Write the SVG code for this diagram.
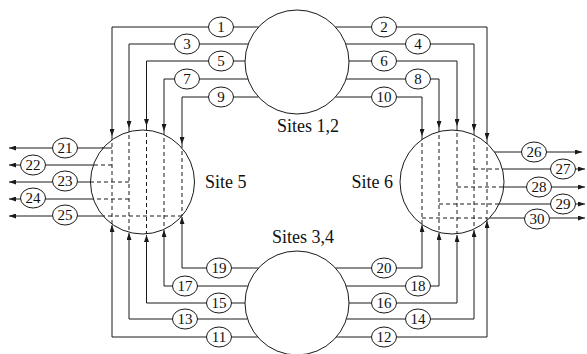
<svg xmlns="http://www.w3.org/2000/svg" width="587" height="354" viewBox="0 0 587 354">
<defs>
<marker id="ah" viewBox="0 0 7 5" refX="7" refY="2.5" markerWidth="7" markerHeight="5" markerUnits="userSpaceOnUse" orient="auto"><path d="M0,0 L7,2.5 L0,5 Z" fill="#1a1a1a"/></marker>
</defs>
<style>
.site{fill:#fff;stroke:#1a1a1a;stroke-width:1}
.ln{fill:none;stroke:#1a1a1a;stroke-width:1}
.arr{fill:none;stroke:#1a1a1a;stroke-width:1;marker-end:url(#ah)}
.dash{fill:none;stroke:#1a1a1a;stroke-width:1;stroke-dasharray:4 3}
.lab ellipse{fill:#fff;stroke:#1a1a1a;stroke-width:1}
.lab text{font-family:"Liberation Serif","Times New Roman",serif;font-size:15px;text-anchor:middle;fill:#111}
.st{font-family:"Liberation Serif","Times New Roman",serif;font-size:18px;fill:#111}
</style>
<g id="connectors">
<path class="arr" d="M258.5,27 H112 V136"/>
<path class="arr" d="M248,44 H129 V128"/>
<path class="arr" d="M245,61 H146.5 V126"/>
<path class="arr" d="M248,79 H164 V131"/>
<path class="arr" d="M258.5,97 H182 V144"/>
<path class="arr" d="M335.5,27 H487 V140"/>
<path class="arr" d="M346,44 H474 V131"/>
<path class="arr" d="M349,61 H457 V126"/>
<path class="arr" d="M346,79 H439 V128"/>
<path class="arr" d="M335.5,97 H422 V136"/>
<path class="arr" d="M257.7,337 H112 V225"/>
<path class="arr" d="M247.5,319 H129 V233"/>
<path class="arr" d="M245,303 H146.5 V235"/>
<path class="arr" d="M248,286 H164 V230"/>
<path class="arr" d="M258.5,268 H182 V217"/>
<path class="arr" d="M335.5,268 H422 V225"/>
<path class="arr" d="M346,286 H439 V233"/>
<path class="arr" d="M349,303 H457 V235"/>
<path class="arr" d="M346.5,319 H474 V230"/>
<path class="arr" d="M336,337 H487 V221"/>
<path class="arr" d="M112,148 H9"/>
<path class="arr" d="M93.4,165 H9"/>
<path class="arr" d="M90.5,182 H9"/>
<path class="arr" d="M93.4,199 H9"/>
<path class="arr" d="M103,216 H9"/>
<path class="arr" d="M488,152 H582"/>
<path class="arr" d="M502.3,169 H585"/>
<path class="arr" d="M503.8,187 H585"/>
<path class="arr" d="M499,204 H585"/>
<path class="arr" d="M487,218 H585"/>
</g>
<g id="site12"><circle class="site" cx="297" cy="62" r="52"/><text class="st" x="277" y="132">Sites 1,2</text></g>
<g id="site34"><circle class="site" cx="297" cy="303" r="52"/><text class="st" x="272" y="243">Sites 3,4</text></g>
<g id="site5">
<circle class="site" cx="142.5" cy="182" r="52"/>
<text class="st" x="205" y="188">Site 5</text>
<path class="dash" d="M112,136 V224 M129,128 V232 M146.5,126 V234 M164,131 V229 M182,144 V216"/>
<path class="ln" d="M112,148 H102"/>
<path class="dash" d="M112,165 H93.4 M129,182 H90.5 M129,199 H93.4 M182,216 H103"/>
</g>
<g id="site6">
<circle class="site" cx="452" cy="182" r="52"/>
<text class="st" x="393" y="188" text-anchor="end">Site 6</text>
<path class="dash" d="M422,136 V224.5 M439,128 V232 M457,126 V234 M474,131 V229 M487,140 V220.5"/>
<path class="dash" d="M474,169 H502.3 M457,187 H503.8 M439,204 H499 M422,218 H487"/>
</g>
<g id="labels" class="lab">
<g id="l1"><ellipse cx="221" cy="27" rx="12.5" ry="10"/><text x="221" y="32">1</text></g>
<g id="l3"><ellipse cx="187" cy="44" rx="12.5" ry="10"/><text x="187" y="49">3</text></g>
<g id="l5"><ellipse cx="221" cy="61" rx="12.5" ry="10"/><text x="221" y="66">5</text></g>
<g id="l7"><ellipse cx="187" cy="79" rx="12.5" ry="10"/><text x="187" y="84">7</text></g>
<g id="l9"><ellipse cx="221" cy="97" rx="12.5" ry="10"/><text x="221" y="102">9</text></g>
<g id="l2"><ellipse cx="384" cy="27" rx="12.5" ry="10"/><text x="384" y="32">2</text></g>
<g id="l4"><ellipse cx="418" cy="44" rx="12.5" ry="10"/><text x="418" y="49">4</text></g>
<g id="l6"><ellipse cx="384" cy="61" rx="12.5" ry="10"/><text x="384" y="66">6</text></g>
<g id="l8"><ellipse cx="418" cy="79" rx="12.5" ry="10"/><text x="418" y="84">8</text></g>
<g id="l10"><ellipse cx="384" cy="97" rx="12.5" ry="10"/><text x="384" y="102">10</text></g>
<g id="l11"><ellipse cx="219" cy="337" rx="12.5" ry="10"/><text x="219" y="342">11</text></g>
<g id="l13"><ellipse cx="185" cy="319" rx="12.5" ry="10"/><text x="185" y="324">13</text></g>
<g id="l15"><ellipse cx="219" cy="303" rx="12.5" ry="10"/><text x="219" y="308">15</text></g>
<g id="l17"><ellipse cx="185" cy="286" rx="12.5" ry="10"/><text x="185" y="291">17</text></g>
<g id="l19"><ellipse cx="219" cy="268" rx="12.5" ry="10"/><text x="219" y="273">19</text></g>
<g id="l12"><ellipse cx="384" cy="337" rx="12.5" ry="10"/><text x="384" y="342">12</text></g>
<g id="l14"><ellipse cx="418" cy="319" rx="12.5" ry="10"/><text x="418" y="324">14</text></g>
<g id="l16"><ellipse cx="384" cy="303" rx="12.5" ry="10"/><text x="384" y="308">16</text></g>
<g id="l18"><ellipse cx="418" cy="286" rx="12.5" ry="10"/><text x="418" y="291">18</text></g>
<g id="l20"><ellipse cx="384" cy="268" rx="12.5" ry="10"/><text x="384" y="273">20</text></g>
<g id="l21"><ellipse cx="65" cy="148" rx="12.5" ry="10"/><text x="65" y="153">21</text></g>
<g id="l22"><ellipse cx="33" cy="165" rx="12.5" ry="10"/><text x="33" y="170">22</text></g>
<g id="l23"><ellipse cx="65" cy="181" rx="12.5" ry="10"/><text x="65" y="186">23</text></g>
<g id="l24"><ellipse cx="33" cy="198" rx="12.5" ry="10"/><text x="33" y="203">24</text></g>
<g id="l25"><ellipse cx="65" cy="215" rx="12.5" ry="10"/><text x="65" y="220">25</text></g>
<g id="l26"><ellipse cx="534" cy="152" rx="12.5" ry="10"/><text x="534" y="157">26</text></g>
<g id="l27"><ellipse cx="563" cy="169" rx="12.5" ry="10"/><text x="563" y="174">27</text></g>
<g id="l28"><ellipse cx="539" cy="187" rx="12.5" ry="10"/><text x="539" y="192">28</text></g>
<g id="l29"><ellipse cx="563" cy="204" rx="12.5" ry="10"/><text x="563" y="209">29</text></g>
<g id="l30"><ellipse cx="537" cy="219" rx="12.5" ry="10"/><text x="537" y="224">30</text></g>
</g>
</svg>
